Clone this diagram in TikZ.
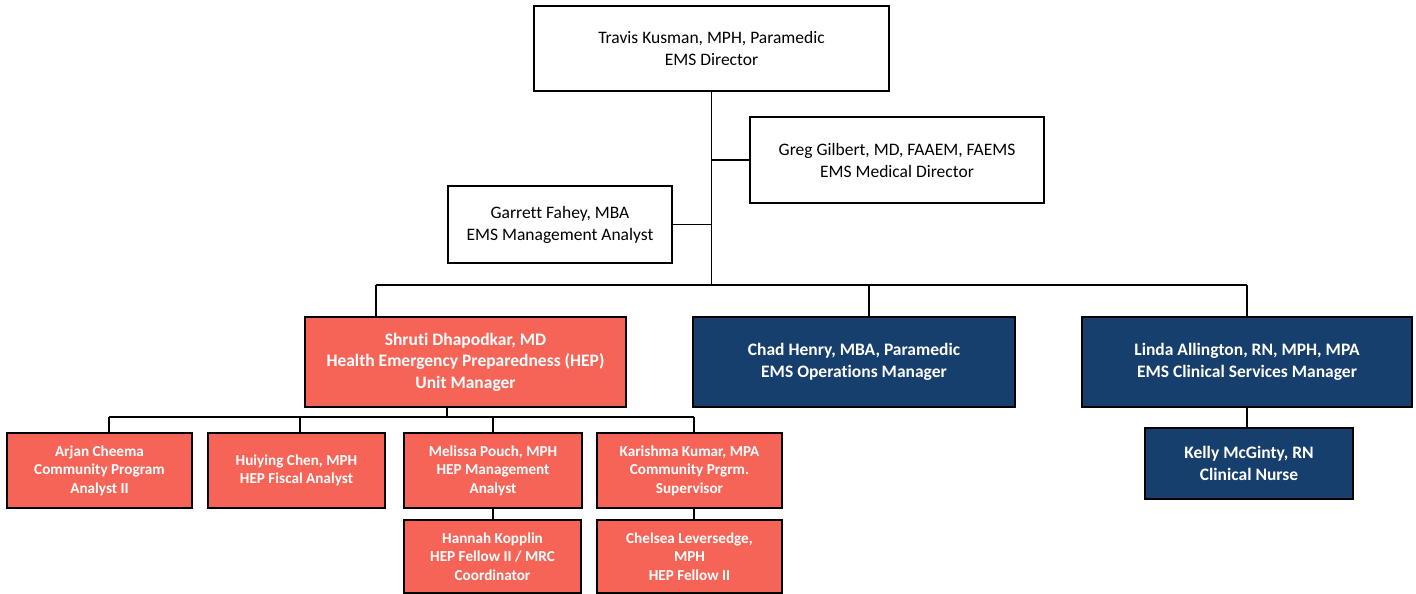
\documentclass[tikz,border=0pt]{standalone}
\usepackage{fontspec}
\setmainfont[Ligatures={NoCommon}]{Carlito}
\definecolor{hep}{HTML}{F56457}
\definecolor{navy}{HTML}{173F6D}
\begin{document}
\begin{tikzpicture}[x=1pt,y=-1pt,
  box/.style={draw=black, line width=1.6pt, align=center, inner sep=0pt, anchor=center},
  wbox/.style={box, fill=white, font=\fontsize{17.5}{22}\selectfont},
  rbig/.style={box, fill=hep, text=white, font=\bfseries\fontsize{17.5}{21.5}\selectfont},
  nbig/.style={box, fill=navy, text=white, font=\bfseries\fontsize{17.5}{21.5}\selectfont},
  rsmall/.style={box, fill=hep, text=white, font=\bfseries\fontsize{15.2}{18.5}\selectfont},
  conn/.style={draw=black, line width=1.1pt}]
\useasboundingbox (0,0) rectangle (1416,594);
% nodes
\node[wbox, minimum width=355pt, minimum height=85pt] (top) at (711.5,48.5) {Travis Kusman, MPH, Paramedic\\EMS Director};
\node[wbox, minimum width=294pt, minimum height=86pt] (greg) at (897,160) {Greg Gilbert, MD, FAAEM, FAEMS\\EMS Medical Director};
\node[wbox, minimum width=224pt, minimum height=77pt] (garrett) at (560,224.5) {Garrett Fahey, MBA\\EMS Management Analyst};
\node[rbig, minimum width=321pt, minimum height=90pt] (shruti) at (465.5,362) {Shruti Dhapodkar, MD\\Health Emergency Preparedness (HEP)\\Unit Manager};
\node[nbig, minimum width=322pt, minimum height=90pt] (chad) at (854,362) {Chad Henry, MBA, Paramedic\\EMS Operations Manager};
\node[nbig, minimum width=330pt, minimum height=90pt] (linda) at (1247,362) {Linda Allington, RN, MPH, MPA\\EMS Clinical Services Manager};
\node[nbig, minimum width=208pt, minimum height=71pt] (kelly) at (1249,463.5) {Kelly McGinty, RN\\Clinical Nurse};
\node[rsmall, minimum width=185pt, minimum height=75pt] (arjan) at (99.5,470.5) {Arjan Cheema\\Community Program\\Analyst II};
\node[rsmall, minimum width=177pt, minimum height=75pt] (huiying) at (296.5,470.5) {Huiying Chen, MPH\\HEP Fiscal Analyst};
\node[rsmall, minimum width=178pt, minimum height=75pt] (melissa) at (493,470.5) {Melissa Pouch, MPH\\HEP Management\\Analyst};
\node[rsmall, minimum width=185pt, minimum height=75pt] (karishma) at (689.5,470.5) {Karishma Kumar, MPA\\Community Prgrm.\\Supervisor};
\node[rsmall, minimum width=177pt, minimum height=73pt] (hannah) at (492.5,556.5) {Hannah Kopplin\\HEP Fellow II / MRC\\Coordinator};
\node[rsmall, minimum width=185pt, minimum height=73pt] (chelsea) at (689.5,556.5) {Chelsea Leversedge,\\MPH\\HEP Fellow II};
% coordinates
\coordinate (bus) at (711.5,285);
\coordinate (busL) at (376,285);
\coordinate (busC) at (869,285);
\coordinate (busR) at (1247,285);
\coordinate (sub) at (447,417);
\coordinate (s1) at (109,417);
\coordinate (s2) at (300,417);
\coordinate (s3) at (493,417);
\coordinate (s4) at (694,417);
% connectors
\draw[conn] (top.south) -- (bus);
\draw[conn] (greg.west) -- (greg.west -| top.south);
\draw[conn] (garrett.east) -- (garrett.east -| top.south);
\draw[conn] (busL) -- (busR);
\draw[conn] (busL) -- (busL |- shruti.north);
\draw[conn] (busC) -- (busC |- chad.north);
\draw[conn] (busR) -- (linda.north);
\draw[conn] (sub |- shruti.south) -- (sub);
\draw[conn] (s1) -- (s4);
\draw[conn] (s1) -- (s1 |- arjan.north);
\draw[conn] (s2) -- (s2 |- huiying.north);
\draw[conn] (s3) -- (melissa.north);
\draw[conn] (s4) -- (s4 |- karishma.north);
\draw[conn] (melissa.south) -- (melissa.south |- hannah.north);
\draw[conn] (s4 |- karishma.south) -- (s4 |- chelsea.north);
\draw[conn] (linda.south) -- (linda.south |- kelly.north);
\end{tikzpicture}
\end{document}
